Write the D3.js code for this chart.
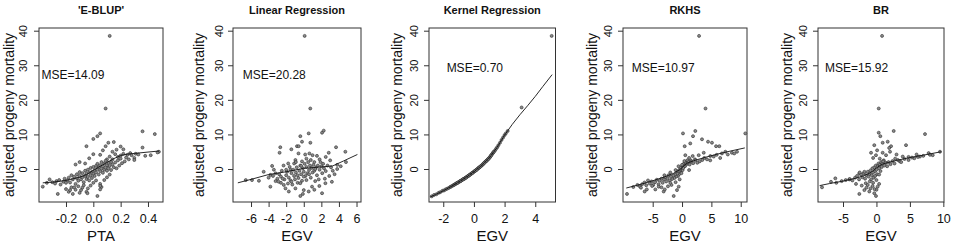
<!DOCTYPE html>
<html>
<head>
<meta charset="utf-8">
<script src="https://cdn.jsdelivr.net/npm/d3@7"></script>
<style>
  html, body { margin: 0; padding: 0; background: #fff; }
  svg { display: block; }
</style>
</head>
<body>
<svg id="chart" width="958" height="248"></svg>
<script>
// ---------------- data ----------------
const titles = ["'E-BLUP'", "Linear Regression", "Kernel Regression", "RKHS", "BR"];
const xLabels = ["PTA", "EGV", "EGV", "EGV", "EGV"];
const yLabel = "adjusted progeny mortality";
const mseLabels = ["MSE=14.09", "MSE=20.28", "MSE=0.70", "MSE=10.97", "MSE=15.92"];
const msePos = [[-0.38, 26.0], [-6.94, 26.0], [-1.78, 28.0], [-8.58, 28.0], [-7.69, 28.0]];
const xLims = [[-0.3975, 0.51], [-8.05, 6.51], [-2.93, 5.32], [-10.06, 11.07], [-8.74, 10.1]];
const yLim = [-9.54, 40.78];
const xTicks = [[-0.2, 0.0, 0.2, 0.4], [-6, -4, -2, 0, 2, 4, 6], [-2, 0, 2, 4], [-5, 0, 5, 10], [-5, 0, 5, 10]];
const xTickLabels = [["-0.2", "0.0", "0.2", "0.4"], ["-6", "-4", "-2", "0", "2", "4", "6"], ["-2", "0", "2", "4"], ["-5", "0", "5", "10"], ["-5", "0", "5", "10"]];
const yTicks = [0, 10, 20, 30, 40];

const pointsEBLUP = [
[0.12,38.5],[0.09,17.5],[0.36,10.9],[0.45,10.1],[0.05,10.3],[0.03,9.5],[0.0,8.7],[-0.05,6.6],[0.11,7.6],[0.15,7.8],[0.09,6.6],[0.2,6.5],[0.36,6.2],[0.17,5.6],[0.14,5.0],[0.07,5.4],[0.22,5.7],[0.27,4.6],[0.31,4.4],[0.25,4.1],[0.3,3.2],[0.42,4.0],[0.48,5.0],[0.3,2.6],[0.2,3.0],[0.23,2.2],[0.12,3.6],[0.05,4.1],[0.0,4.3],[-0.03,3.1],[-0.1,2.0],[-0.13,1.3],[0.16,4.3],[0.18,3.5],[0.1,2.8],[0.13,2.0],[-0.06,1.6],
[-0.37,-5.1],[-0.34,-4.0],[-0.32,-3.0],[-0.3,-3.8],[-0.28,-4.2],[-0.27,-3.5],[-0.25,-3.2],[-0.24,-4.5],[-0.22,-3.7],[-0.21,-2.8],[-0.2,-4.0],[-0.19,-3.3],[-0.18,-2.5],[-0.17,-3.9],[-0.16,-1.8],[-0.15,-3.0],[-0.14,-2.2],[-0.13,-4.3],[-0.12,-2.7],[-0.12,-1.5],[-0.11,-3.4],[-0.1,-2.0],[-0.1,-0.9],[-0.09,-3.0],[-0.08,-2.4],[-0.08,-1.2],[-0.07,-3.8],[-0.06,-2.0],[-0.06,-0.5],[-0.05,-2.9],[-0.05,-1.4],[-0.04,-0.2],[-0.04,-2.3],[-0.03,-1.0],[-0.03,-3.3],[-0.02,-1.8],[-0.02,0.3],[-0.01,-0.8],[-0.01,-2.6],[0.0,-1.4],[0.0,0.6],[0.01,-0.3],[0.01,-2.0],[0.02,0.9],[0.02,-1.0],[0.03,-0.1],[0.03,1.5],[0.04,-1.6],[0.04,0.5],[0.05,1.1],[0.05,-0.6],[0.06,0.1],[0.06,2.0],[0.07,-1.1],[0.07,0.8],[0.08,1.6],[0.08,-0.2],[0.09,0.4],[0.09,2.4],[0.1,1.1],[0.1,-0.5],[0.11,0.2],[0.11,1.8],[0.12,0.9],[0.13,-0.3],[0.14,1.3],[0.14,2.8],[0.15,0.5],[0.16,1.9],[0.17,0.2],[0.18,2.5],[0.19,1.0],[0.2,3.9],[0.21,1.7],[0.22,4.4],[0.24,3.3],[0.26,2.8],[0.28,4.0],[0.33,4.2],[0.38,3.8],[0.47,4.8],
[-0.26,-7.2],[-0.18,-6.6],[-0.15,-7.2],[-0.13,-6.0],[-0.1,-6.9],[-0.08,-5.4],[-0.05,-6.6],[-0.04,-5.6],[-0.02,-4.8],[0.03,-7.8],[0.05,-4.3],[0.06,-5.2],[0.05,-5.9],[0.0,-4.0],[-0.07,-4.7],[-0.11,-5.0],[-0.16,-5.3],[-0.2,-5.8],[0.02,-3.3],[0.08,-3.2],[0.1,-2.4],[0.12,-1.6],[-0.17,-6.1],[-0.14,-5.3],[-0.09,-6.1],[-0.043,-7.0],[0.05,-4.9]
];
const pointsLR = [
[0.1,38.5],[0.74,17.5],[2.08,10.5],[2.27,11.1],[-0.39,9.5],[0.56,10.3],[-0.2,7.9],[-0.77,6.6],[-0.58,6.6],[-1.41,5.7],[-2.67,6.3],[-2.75,4.7],[0.75,7.6],[3.67,6.3],[4.73,5.0],[2.84,4.7],[0.64,4.5],[1.0,4.0],[0.16,4.2],[-0.6,4.5],[-0.95,2.6],[-1.1,1.6],[-1.77,1.6],[-3.6,0.9],[1.5,3.8],[2.5,3.5],[1.8,2.8],[3.0,2.5],[0.3,3.0],[-0.2,2.2],[1.2,2.0],[2.2,1.5],[3.8,1.2],[4.8,2.0],[-2.3,1.0],[-1.5,-0.2],
[-4.56,-0.8],[-3.8,-1.7],[-3.2,-1.25],[-4.0,-2.5],[-3.5,-2.0],[-3.0,-2.8],[-2.8,-1.5],[-2.5,-0.5],[-2.6,-2.2],[-2.2,-3.0],[-2.0,-1.8],[-1.9,-0.8],[-1.7,-2.5],[-1.5,-3.3],[-1.4,-1.2],[-1.2,-0.2],[-1.1,-2.0],[-1.0,-3.0],[-0.9,-1.0],[-0.8,0.5],[-0.7,-1.8],[-0.6,-2.6],[-0.5,-0.5],[-0.4,1.0],[-0.3,-1.5],[-0.2,-3.4],[-0.1,0.2],[0.0,-0.8],[0.1,1.5],[0.2,-2.0],[0.3,0.6],[0.4,-1.2],[0.5,2.0],[0.6,-0.3],[0.7,1.0],[0.8,-2.5],[0.9,0.3],[1.0,-1.0],[1.1,1.2],[1.2,-0.5],[1.4,0.5],[1.5,-1.8],[1.6,1.0],[1.8,-0.2],[2.0,0.8],[2.1,-1.2],[2.3,0.2],[2.5,-0.6],[2.7,1.0],[2.9,-2.0],[3.1,0.5],[3.3,-0.5],[3.5,-1.5],[3.8,0.0],[4.2,0.8],[-3.2,-3.5],[-2.6,-4.0],[-1.8,-4.2],[-1.3,-4.5],[-0.7,-4.0],[0.3,-3.2],[1.3,-3.5],[2.4,-2.8],[-2.0,-0.2],[-0.9,2.0],[0.8,2.6],[1.9,2.0],[-1.6,0.6],[-3.4,-0.2],[-2.4,-2.8],[0.0,-2.2],[0.6,-1.5],[1.7,-3.0],[-0.3,0.9],[1.3,0.0],
[-0.39,-7.8],[0.0,-6.1],[-1.7,-6.5],[-0.95,-5.6],[-2.08,-5.6],[-2.27,-4.6],[0.56,-6.5],[2.08,-7.0],[0.94,-5.1],[1.77,-4.9],[2.46,-4.1],[3.2,-3.7],[-3.8,-5.1],[-2.87,-3.65],[-0.4,-4.1],[-1.4,-3.65],[-6.6,-3.2],[-5.89,-3.2],[-5.1,-3.4],[-0.1,-7.2],[1.2,-6.0]
];
const pointsKR = [
[-2.75,-7.9],[-2.6,-7.5],[-2.45,-7.3],[-2.3,-6.9],[-2.2,-6.7],[-2.05,-6.3],[-1.95,-6.2],[-1.85,-5.9],[-1.75,-5.7],[-1.65,-5.5],[-1.55,-5.2],[-1.5,-5.1],[-1.42,-4.9],[-1.35,-4.7],[-1.3,-4.6],[-1.25,-4.45],[-1.2,-4.3],[-1.15,-4.2],[-1.1,-4.05],[-1.05,-3.95],[-1.0,-3.8],[-0.95,-3.65],[-0.9,-3.5],[-0.85,-3.4],[-0.8,-3.25],[-0.75,-3.1],[-0.7,-2.95],[-0.65,-2.85],[-0.6,-2.7],[-0.55,-2.55],[-0.5,-2.4],[-0.45,-2.25],[-0.4,-2.1],[-0.35,-1.95],[-0.3,-1.8],[-0.25,-1.6],[-0.2,-1.45],[-0.15,-1.3],[-0.1,-1.1],[-0.05,-0.95],[0.0,-0.8],[0.05,-0.6],[0.1,-0.45],[0.15,-0.3],[0.2,-0.1],[0.25,0.1],[0.3,0.3],[0.35,0.45],[0.4,0.65],[0.45,0.8],[0.5,1.0],[0.55,1.2],[0.6,1.45],[0.65,1.65],[0.7,1.9],[0.75,2.1],[0.8,2.3],[0.85,2.5],[0.9,2.75],[0.95,2.95],[1.0,3.2],[1.05,3.5],[1.1,3.8],[1.15,4.1],[1.2,4.4],[1.25,4.7],[1.3,5.0],[1.38,5.4],[1.45,5.9],[1.52,6.3],[1.6,6.9],[1.7,7.6],[1.8,8.4],[1.9,9.1],[2.0,9.8],[2.08,10.3],[2.2,11.0],[3.11,17.8],[5.07,38.5],
[-0.62,-2.8],[-0.38,-2.0],[-0.12,-1.2],[0.08,-0.5],[0.32,0.35],[0.58,1.35],[0.82,2.4],[1.02,3.3],[-0.88,-3.5],[-1.08,-4.0],[0.42,0.7],[-0.28,-1.7],[0.68,1.8],[0.18,-0.2],[-0.52,-2.5],[-0.72,-3.0],[0.92,2.8],[1.12,3.9],[1.28,4.9]
];
const pointsRKHS = [
[2.9,38.5],[4.0,17.5],[10.78,10.3],[0.16,10.3],[2.26,11.0],[1.87,9.5],[3.4,8.6],[4.43,7.9],[5.1,7.6],[5.8,6.6],[6.35,6.6],[0.45,6.6],[1.4,7.4],[0.56,4.0],[1.82,3.75],[2.84,4.0],[3.7,4.7],[4.82,3.75],[6.8,4.5],[7.38,5.0],[8.5,4.7],[9.37,5.0],[3.45,2.6],[4.25,2.8],[5.4,3.6],[6.5,3.2],[7.8,4.2],[8.9,4.5],[4.8,2.5],[3.0,2.2],[2.2,2.8],[1.5,2.5],[1.2,3.2],[0.8,2.2],[0.4,1.5],[2.6,1.8],[3.8,3.2],[5.9,4.1],
[-0.2,-0.5],[-0.1,0.2],[0.0,0.5],[0.1,-0.3],[0.2,1.0],[0.3,1.5],[0.5,0.8],[0.6,1.9],[0.7,1.3],[0.9,2.5],[1.0,1.6],[1.1,2.0],[-0.3,-1.0],[-0.4,-0.2],[-0.5,-1.5],[-0.6,-0.8],[-0.7,-2.0],[-0.8,-1.3],[-0.9,-0.6],[-1.0,-2.2],[-1.2,-1.6],[-1.3,-2.6],[-1.5,-1.9],[-1.7,-2.9],[-1.9,-2.2],[-2.1,-3.3],[-2.3,-1.8],[-2.5,-2.7],[-2.7,-3.6],[-2.9,-2.4],[-3.1,-3.0],[-3.3,-4.0],[-3.5,-2.8],[-3.8,-3.4],[-4.0,-4.4],[-4.3,-3.1],[-4.6,-3.8],[-4.9,-4.6],[-5.2,-3.6],[-5.5,-4.2],[-5.8,-3.3],[-6.1,-4.7],[-6.4,-3.9],[-6.8,-4.4],[-7.2,-5.0],[-7.6,-4.6],[-8.3,-5.2],[1.3,1.3],[1.6,2.1],[1.9,1.7],[2.3,2.5],[0.2,0.3],[-0.1,-1.2],[0.0,1.2],[0.4,2.3],[-0.3,0.4],[-1.1,-0.3],[-0.6,0.8],[-2.0,-1.0],[-3.0,-1.8],[1.2,-0.3],
[-9.38,-7.2],[-6.37,-6.5],[-6.0,-5.9],[-4.55,-5.9],[-3.13,-6.5],[-1.42,-7.8],[-0.86,-6.1],[-0.57,-5.1],[-2.94,-5.9],[-5.1,-4.9],[-3.98,-5.1],[-1.8,-4.6],[-2.4,-5.0],[-1.1,-3.8],[-0.4,-3.0],[-7.0,-5.4],[-3.5,-5.3],[-2.0,-4.0]
];
const pointsBR = [
[0.84,38.5],[0.34,17.5],[2.58,11.0],[0.34,10.5],[0.58,9.5],[7.26,10.1],[-0.32,6.9],[0.93,7.6],[1.68,7.9],[2.18,6.6],[4.42,6.9],[-0.81,4.7],[-0.07,4.0],[0.93,4.7],[1.43,4.0],[2.03,5.0],[3.93,3.6],[5.66,3.1],[8.41,4.0],[9.5,5.0],[1.9,6.1],[0.1,5.4],[-0.5,3.2],[0.5,3.0],[1.1,2.5],[2.8,3.0],[3.5,2.2],[4.8,3.5],[6.5,3.6],[7.8,4.6],[6.0,4.2],[3.0,4.2],
[-8.14,-5.3],[-6.8,-3.7],[-6.15,-2.7],[-6.0,-4.0],[-5.2,-3.5],[-4.6,-3.2],[-4.06,-3.0],[-4.0,-2.9],[-3.6,-3.3],[-3.2,-2.5],[-2.9,-2.0],[-2.6,-3.0],[-2.56,-1.25],[-2.3,-1.6],[-2.1,-2.4],[-1.9,-1.2],[-1.8,-0.8],[-1.7,-2.8],[-1.5,-1.8],[-1.3,-0.8],[-1.2,-2.2],[-1.0,-1.4],[-0.9,-0.4],[-0.8,-3.0],[-0.7,-1.8],[-0.6,0.2],[-0.5,-1.0],[-0.4,-2.5],[-0.3,0.5],[-0.2,-0.6],[-0.1,1.0],[0.0,-0.2],[0.1,-1.5],[0.2,0.8],[0.3,1.6],[0.4,0.2],[0.5,1.2],[0.6,-0.6],[0.7,2.0],[0.8,0.6],[0.9,1.5],[1.0,2.2],[1.2,1.0],[1.4,1.8],[1.6,0.8],[1.8,2.0],[2.1,1.4],[2.4,2.3],[2.7,1.6],[3.2,2.6],[3.7,2.0],[4.2,2.9],[4.8,2.6],[5.3,3.3],[6.2,3.5],[7.0,3.8],[8.0,4.1],[-1.0,-3.6],[-0.5,-4.0],[0.0,-3.2],[-1.6,-4.1],[-0.2,-2.0],[0.4,-1.6],[-2.5,-1.0],
[-2.56,-7.2],[-1.81,-6.1],[-1.07,-6.5],[-0.32,-7.0],[-0.07,-7.8],[-1.3,-4.6],[-0.57,-4.9],[0.18,-5.1],[-3.06,-4.3],[-1.5,-5.4],[-0.9,-5.6],[0.0,-6.0],[-2.2,-4.8],[0.4,-4.3],[-0.3,-5.8]
];

const lineEBLUP = [[-0.37,-4.0],[-0.3,-3.8],[-0.2,-3.3],[-0.1,-2.4],[-0.05,-1.6],[0,-0.4],[0.05,0.8],[0.1,1.9],[0.15,3.0],[0.2,3.9],[0.25,4.3],[0.3,4.5],[0.4,4.9],[0.48,5.2]];
const lineLR = [[-7.5,-4.0],[-6,-3.0],[-4,-1.6],[-2,-0.8],[0,0.2],[2,0.6],[3.3,0.9],[4.5,2.3],[6.1,4.2]];
const lineKR = [[-2.85,-8.1],[-2.5,-7.4],[-2,-6.3],[-1.5,-5.1],[-1,-3.8],[-0.5,-2.4],[0,-0.8],[0.5,1.0],[1,3.2],[1.5,6.2],[2,9.8],[2.5,12.9],[3,15.7],[3.5,18.3],[4,21.0],[4.5,23.9],[5.1,27.3]];
const lineRKHS = [[-9.5,-5.5],[-7,-4.4],[-5,-3.4],[-3,-2.3],[-1.5,-1.3],[-0.5,-0.3],[0,0.4],[0.5,1.2],[1,1.8],[2,2.4],[4,3.4],[6,4.3],[8,5.1],[10.7,6.1]];
const lineBR = [[-8.5,-4.8],[-7,-4.2],[-5,-3.5],[-3,-2.6],[-2,-2.0],[-1,-1.2],[-0.5,-0.5],[0,0.3],[0.5,1.0],[1,1.5],[2,2.0],[3,2.5],[5,3.3],[7,4.0],[9.7,5.0]];

const pointSets = [pointsEBLUP, pointsLR, pointsKR, pointsRKHS, pointsBR];
const lineSets = [lineEBLUP, lineLR, lineKR, lineRKHS, lineBR];

// ---------------- layout (pixels) ----------------
const layout = [
  {left: 39,  right: 163,   ylab: 13.5,  ytick: 12},
  {left: 233, right: 361,   ylab: 203.5, ytick: 10.5},
  {left: 429, right: 555.5, ylab: 402,   ytick: 11},
  {left: 623, right: 747,   ylab: 597,   ytick: 11.5},
  {left: 818, right: 944,   ylab: 792,   ytick: 11.5}
];
const boxTop = 28, boxBottom = 202;
const FONT = "'Liberation Sans', Arial, Helvetica, sans-serif";

const svg = d3.select("#chart");
svg.append("rect").attr("width", 958).attr("height", 248).attr("fill", "#fff");

const y = d3.scaleLinear().domain(yLim).range([boxBottom, boxTop]);

layout.forEach((L, i) => {
  const g = svg.append("g");
  const x = d3.scaleLinear().domain(xLims[i]).range([L.left, L.right]);

  // x axis
  const xa = d3.axisBottom(x).tickValues(xTicks[i])
    .tickFormat((d, k) => xTickLabels[i][k]).tickSize(5).tickPadding(7);
  const gx = g.append("g").attr("transform", `translate(0,${boxBottom})`).call(xa);
  gx.select(".domain").remove();
  gx.selectAll("line").attr("stroke", "#333");
  gx.selectAll("text").attr("font-family", FONT).attr("font-size", 12.5).attr("fill", "#111");

  // y axis
  const ya = d3.axisLeft(y).tickValues(yTicks).tickSize(5);
  const gy = g.append("g").attr("transform", `translate(${L.left},0)`).call(ya);
  gy.select(".domain").remove();
  gy.selectAll("line").attr("stroke", "#333");
  gy.selectAll("text")
    .attr("x", null).attr("dy", null)
    .attr("transform", `translate(${-L.ytick},0) rotate(-90)`)
    .attr("text-anchor", "middle")
    .attr("font-family", FONT).attr("font-size", 11).attr("fill", "#111");

  // box
  g.append("rect").attr("x", L.left).attr("y", boxTop)
    .attr("width", L.right - L.left).attr("height", boxBottom - boxTop)
    .attr("fill", "none").attr("stroke", "#333").attr("stroke-width", 1);

  // points
  g.append("g").selectAll("circle").data(pointSets[i]).join("circle")
    .attr("cx", d => x(d[0])).attr("cy", d => y(d[1])).attr("r", 1.5)
    .attr("fill", "#8a8a8a").attr("stroke", "#2e2e2e").attr("stroke-width", 0.6);

  // fitted line
  g.append("path").datum(lineSets[i])
    .attr("d", d3.line().x(d => x(d[0])).y(d => y(d[1])))
    .attr("fill", "none").attr("stroke", "#111").attr("stroke-width", 0.9);

  // MSE text
  g.append("text").attr("x", x(msePos[i][0])).attr("y", y(msePos[i][1]))
    .attr("font-family", FONT).attr("font-size", 12).attr("fill", "#111")
    .text(mseLabels[i]);

  // title
  g.append("text").attr("x", (L.left + L.right) / 2).attr("y", 13.5)
    .attr("text-anchor", "middle").attr("font-family", FONT)
    .attr("font-weight", "bold").attr("font-size", 11).attr("fill", "#111")
    .text(titles[i]);

  // x label
  g.append("text").attr("x", (L.left + L.right) / 2).attr("y", 241)
    .attr("text-anchor", "middle").attr("font-family", FONT)
    .attr("font-size", 15).attr("fill", "#111").text(xLabels[i]);

  // y label
  g.append("text")
    .attr("transform", `translate(${L.ylab},${(boxTop + boxBottom) / 2}) rotate(-90)`)
    .attr("text-anchor", "middle").attr("font-family", FONT)
    .attr("font-size", 14).attr("fill", "#111").text(yLabel);
});
</script>
</body>
</html>
